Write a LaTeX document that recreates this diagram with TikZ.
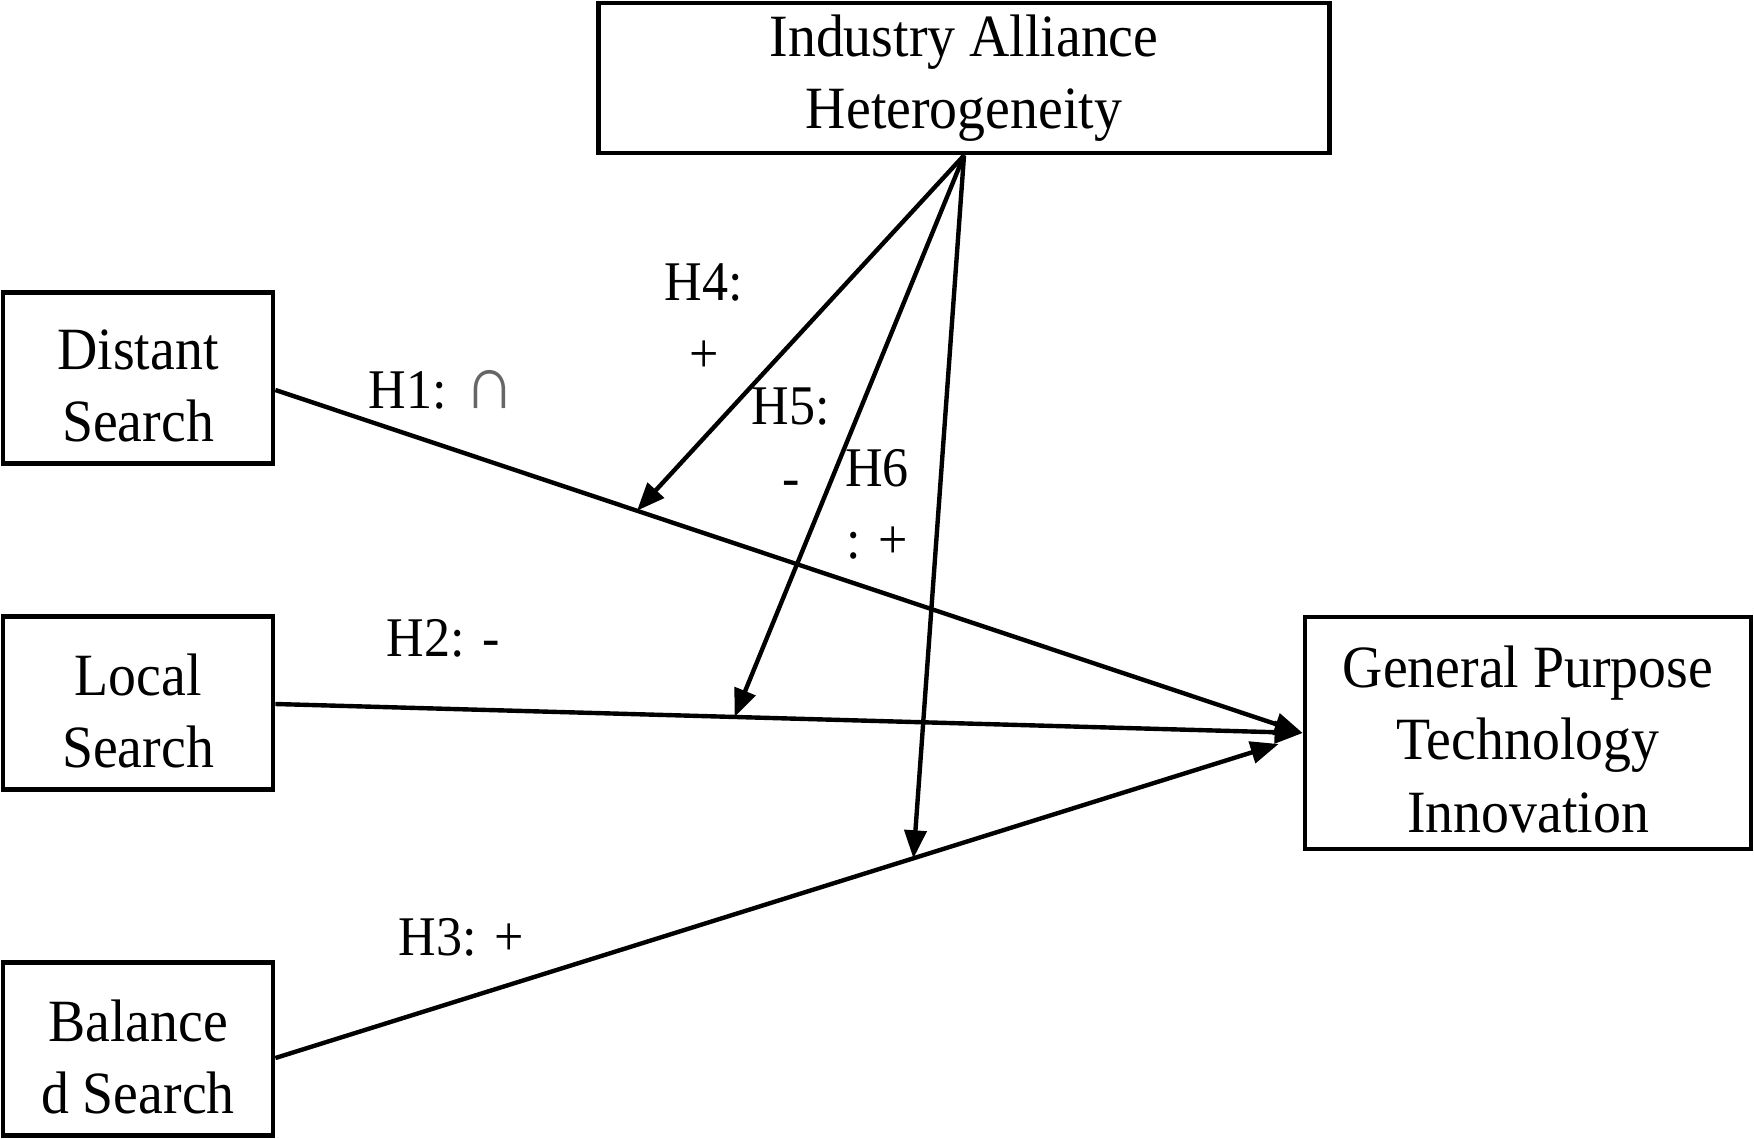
\documentclass[tikz,border=0pt]{standalone}
\usepackage{fontspec}
\setmainfont[FakeStretch=0.93]{Liberation Serif}
\usetikzlibrary{arrows.meta,calc}
\begin{document}
\begin{tikzpicture}[x=0.5pt,y=-0.5pt,
  box/.style={draw, line width=2.4pt, inner sep=0pt},
  boxtext/.style={inner sep=0pt, align=center,
    font=\fontsize{30pt}{36.25pt}\selectfont},
  lab/.style={inner sep=0pt, align=center,
    font=\fontsize{28pt}{36pt}\selectfont},
  conn/.style={line width=2.2pt, -{Triangle[length=14pt,width=11pt]}}]
\useasboundingbox[fill=white] (0,0) rectangle (1754,1139);
% boxes
\node[box, minimum width=365.5pt, minimum height=75pt] (ia) at (964,78) {};
\node[box, minimum width=135pt, minimum height=85.5pt] (ds) at (138,378) {};
\node[box, minimum width=135pt, minimum height=86.5pt] (ls) at (138,703) {};
\node[box, minimum width=135pt, minimum height=86.5pt] (bs) at (138,1049) {};
\node[box, minimum width=223pt, minimum height=116pt] (gpt) at (1528,733) {};
% box texts
\node[boxtext] (iat) at ($(ia.center)+(0,0)$) {Industry Alliance\\Heterogeneity};
\node[boxtext] (dst) at ($(ds.center)+(0,8)$) {Distant\\Search};
\node[boxtext] (lst) at ($(ls.center)+(0,8)$) {Local\\Search};
\node[boxtext] (bst) at ($(bs.center)+(0,8)$) {Balance\\d Search};
\node[boxtext] (gptt) at ($(gpt.center)+(0,6)$) {General Purpose\\Technology\\Innovation};
% main paths
\coordinate (dsA) at ($(ds.east)+(0,12)$);
\coordinate (lsA) at ($(ls.east)+(0,1)$);
\coordinate (bsA) at ($(bs.east)+(0,9)$);
\coordinate (bsB) at ($(gpt.west)+(-24,11)$);
\draw[conn] (dsA) -- (gpt.west);
\draw[conn] (lsA) -- (gpt.west);
\draw[conn] (bsA) -- (bsB);
% moderation targets
\path (dsA) -- (gpt.west) coordinate[pos=0.352] (m1);
\path (lsA) -- (gpt.west) coordinate[pos=0.447] (m2);
\path (bsA) -- (bsB) coordinate[pos=0.636] (m3);
\draw[conn] (ia.south) -- (m1);
\draw[conn] (ia.south) -- (m2);
\draw[conn] (ia.south) -- (m3);
% labels
\node[lab] (h1) at (442,390) {H1: {\color{black!60}\scalebox{1.35}{∩}}};
\node[lab] (h2) at (443,638) {H2: -};
\node[lab] (h3) at (461,937) {H3: +};
\node[lab] (h4) at (704,318) {H4:\\+};
\node[lab] (h5) at (791,442) {H5:\\-};
\node[lab] (h6) at (877,504) {H6\\: +};
\end{tikzpicture}
\end{document}
